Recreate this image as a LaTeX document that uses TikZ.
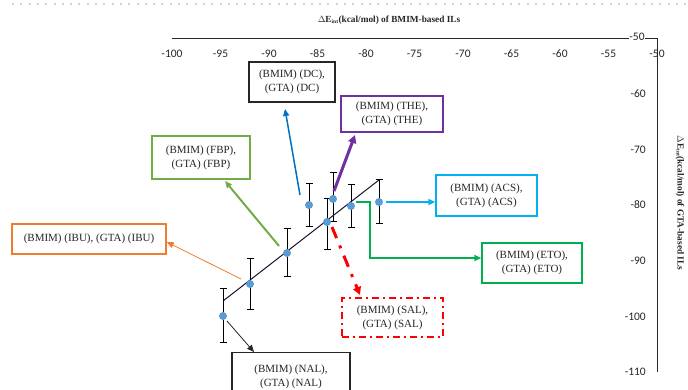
\documentclass[tikz,border=0pt]{standalone}
\usepackage{fontspec}
\setmainfont{Liberation Serif}
\newfontfamily\tickfont{Carlito}
\usetikzlibrary{arrows.meta,calc}
\definecolor{dcblue}{HTML}{0070C0}
\definecolor{thepurple}{HTML}{7030A0}
\definecolor{fbpgreen}{HTML}{70AD47}
\definecolor{ibuorange}{HTML}{ED7D31}
\definecolor{salred}{HTML}{FF0000}
\definecolor{etogreen}{HTML}{00B050}
\definecolor{acscyan}{HTML}{00B0F0}
\definecolor{ptblue}{HTML}{5B9BD5}
\definecolor{txtgrey}{HTML}{262626}
\definecolor{dotgrey}{HTML}{C8D6DF}
\definecolor{trendc}{HTML}{1A1030}
\newcommand\errbar[3]{\draw[ebarst] (#1,#2) -- (#1,#3);}
\begin{document}
\begin{tikzpicture}[x=1pt,y=-1pt,
  lblbox/.style={draw, line width=1.4pt, fill=white, align=center, text=txtgrey,
    font=\fontsize{11}{14}\selectfont, inner sep=2pt},
  ptnode/.style={circle, fill=ptblue, inner sep=0pt, minimum size=8pt},
  ebarst/.style={line width=1pt, black, {Bar[width=7pt]}-{Bar[width=7pt]}},
  conn/.style={-{Triangle[length=7pt,width=6pt]}},
  xtick/.style={font=\tickfont\fontsize{11.5}{12}\selectfont, text=txtgrey, inner sep=0pt},
  ytick/.style={font=\tickfont\fontsize{11.5}{12}\selectfont, text=txtgrey, inner sep=0pt, anchor=east},
  axtitle/.style={font=\bfseries\fontsize{9.3}{11}\selectfont, text=txtgrey, inner sep=0pt}]
\useasboundingbox (0,0) rectangle (688,390);
\clip (0,0) rectangle (688,390);
% dotted top line
\draw[dotgrey, line width=2pt, dash pattern=on 2pt off 6.3pt] (12,4) -- (688,4);
% axes
\coordinate (axTL) at (172,38);
\coordinate (axTR) at (657,38);
\coordinate (axBR) at (657,372);
\draw[line width=0.9pt, black!85] (axTL) -- (axTR) -- (axBR);
% x tick labels
\foreach \v [count=\i from 0] in {-100,-95,-90,-85,-80,-75,-70,-65,-60,-55,-50}
  \node[xtick] (xt\i) at ({172+48.5*\i},54) {\v};
% y tick labels
\node[xtick, fill=white, inner sep=0.5pt] (yt0) at (637,37) {-50};
\foreach \v [count=\i from 1] in {-60,-70,-80,-90,-100,-110}
  \node[ytick] (yt\i) at ({646},{38+55.67*\i}) {\v};
% axis titles
\node[axtitle] (tx) at (389,20) {$\Delta$E\textsubscript{\fontsize{5.5}{5.5}\selectfont int}(kcal/mol) of BMIM-based ILs};
\node[axtitle, rotate=-90] (ty) at (680,203) {$\Delta$E\textsubscript{\fontsize{5.5}{5.5}\selectfont int}(kcal/mol) of GTA-based ILs};
% error bars
\errbar{223}{288}{343}
\errbar{250}{258}{310}
\errbar{287}{228}{277}
\errbar{309}{183}{227}
\errbar{327}{198}{250}
\errbar{333}{172}{222}
\errbar{351}{184}{228}
\errbar{379}{179}{224}
% trend line
\coordinate (tr1) at (223,301);
\coordinate (tr2) at (379,180);
\draw[trendc, line width=1pt] (tr1) -- (tr2);
% points
\node[ptnode] (p1) at (223,316) {};
\node[ptnode] (p2) at (250,284) {};
\node[ptnode] (p3) at (287,253) {};
\node[ptnode] (p4) at (309,205) {};
\node[ptnode] (p5) at (327,222) {};
\node[ptnode] (p6) at (333,199) {};
\node[ptnode] (p7) at (351,206) {};
\node[ptnode] (p8) at (379,202) {};
% boxes
\node[lblbox, draw=black!85, minimum width=86pt, minimum height=40pt] (DC) at (292,82) {(BMIM) (DC),\\(GTA) (DC)};
\node[lblbox, draw=thepurple, minimum width=102pt, minimum height=36pt] (THE) at (392,114) {(BMIM) (THE),\\(GTA) (THE)};
\node[lblbox, draw=fbpgreen, minimum width=98pt, minimum height=43pt] (FBP) at (201,157.5) {(BMIM) (FBP),\\(GTA) (FBP)};
\node[lblbox, draw=ibuorange, minimum width=154pt, minimum height=30pt] (IBU) at (89,239) {(BMIM) (IBU), (GTA) (IBU)};
\node[lblbox, draw=black!85, minimum width=118pt, minimum height=40pt, anchor=north] (NAL) at (291,352) {\rule{0pt}{15pt}(BMIM) (NAL),\\(GTA) (NAL)};
\node[lblbox, draw=salred, dash pattern=on 7pt off 4pt on 2pt off 4pt, minimum width=101pt, minimum height=39pt] (SAL) at (392.5,317.5) {(BMIM) (SAL),\\(GTA) (SAL)};
\node[lblbox, draw=etogreen, minimum width=100pt, minimum height=40pt] (ETO) at (532,263) {(BMIM) (ETO),\\(GTA) (ETO)};
\node[lblbox, draw=acscyan, minimum width=101pt, minimum height=41pt] (ACS) at (486.5,195.5) {(BMIM) (ACS),\\(GTA) (ACS)};
% connector end coordinates
\coordinate (dcS) at (300,195);  \coordinate (dcE) at (285,109);
\coordinate (theS) at (334,191); \coordinate (theE) at (355,135);
\coordinate (fbpS) at (279,246); \coordinate (fbpE) at (225,181);
\coordinate (ibuS) at (241,279);
\coordinate (nalS) at (227,321);
\coordinate (salS) at (332,227); \coordinate (salE) at (360,295);
\coordinate (etoS) at (356,202); \coordinate (etoK) at (370,202);
\coordinate (acsS) at (386,202);
% connectors
\draw[conn, dcblue, line width=1.5pt] (dcS) -- (dcE);
\draw[conn, thepurple, line width=3pt, -{Triangle[length=8pt,width=8pt]}] (theS) -- (theE);
\draw[conn, fbpgreen, line width=2pt] (fbpS) -- (fbpE);
\draw[conn, ibuorange, line width=0.8pt] (ibuS) -- (IBU.east |- 0,242);
\draw[conn, black!85, line width=0.8pt] (nalS) -- (254,352);
\draw[conn, salred, line width=3pt, dash pattern=on 12pt off 8pt on 3pt off 8pt, -{Triangle[length=8pt,width=8pt]}] (salS) -- (salE);
\draw[conn, etogreen, line width=2pt] (etoS) -- (etoK) |- (ETO.west |- 0,258);
\draw[conn, acscyan, line width=1.5pt] (acsS) -- (ACS.west |- acsS);
\end{tikzpicture}
\end{document}
